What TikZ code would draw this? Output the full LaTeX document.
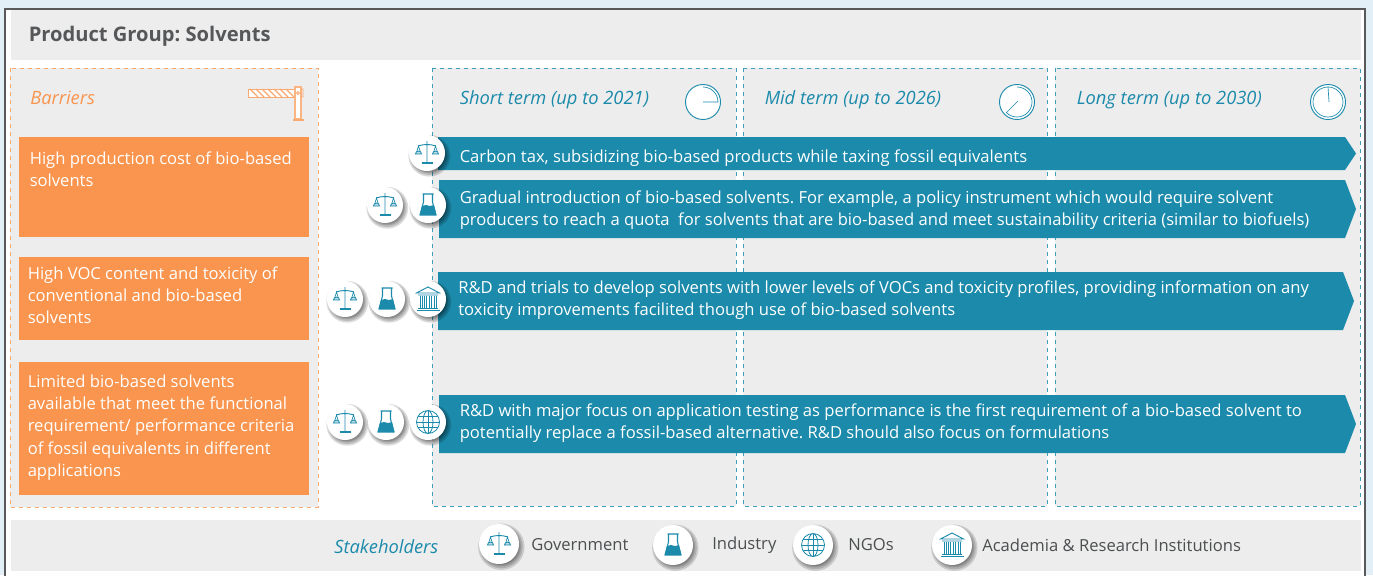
\documentclass[tikz,border=0pt]{standalone}
\usepackage{fontspec}
\setmainfont{Open Sans}
\usetikzlibrary{shadows}
\frenchspacing
\definecolor{pagebg}{HTML}{E3EFF7}
\definecolor{panelgrey}{HTML}{EDEDED}
\definecolor{barrier}{HTML}{F9954E}
\definecolor{teal}{HTML}{1B8AAB}
\definecolor{dashteal}{HTML}{3F9FBB}
\definecolor{headgrey}{HTML}{555759}
\tikzset{
  panel/.style={fill=panelgrey, draw=none},
  barrierbox/.style={anchor=north west, fill=barrier, minimum width=217.5pt, inner sep=0pt},
  bodytext/.style={anchor=west, align=left, inner sep=0pt, text=white, font=\fontsize{12.45}{16.7}\selectfont},
  termtext/.style={anchor=west, inner sep=0pt, text=teal, font=\fontsize{13.75}{16}\selectfont\itshape},
  legendtext/.style={anchor=west, inner sep=0pt, text=headgrey!90!black, font=\fontsize{12.45}{15}\selectfont},
  softshadow/.style={general shadow={shadow xshift=1.5pt, shadow yshift=-1.8pt, shadow scale=#1, fill=black, opacity=.14}},
  badge/.style={circle, fill=white, minimum size=27pt, inner sep=0pt,
    softshadow=1.16, softshadow=1.08, softshadow=1.0, softshadow=.94},
  bigbadge/.style={badge, minimum size=30pt},
  pics/scales/.style={code={
    \draw[teal, line width=.7pt] (0,-12) -- (0,10) (-9,-7) .. controls (-3,-9) and (3,-9) .. (9,-7);
    \draw[teal, line width=1.3pt] (-5.5,10) -- (5.5,10);
    \draw[teal, line width=.5pt] (-11,1) -- (-8.5,-7) -- (-6,1) (6,1) -- (8.5,-7) -- (11,1);
    \draw[teal, line width=.6pt, fill=teal!30] (-11.5,1) arc[start angle=180, end angle=360, radius=3] -- cycle;
    \draw[teal, line width=.6pt, fill=teal!30] (5.5,1) arc[start angle=180, end angle=360, radius=3] -- cycle;
  }},
  pics/flask/.style={code={
    \draw[teal, line width=.8pt] (-5.5,-11) -- (5.5,-11) (-4.5,-11) -- (-4.5,-3) -- (-8,10) (4.5,-11) -- (4.5,-3) -- (8,10);
    \fill[teal] (-6,1) -- (-2,0) -- (2,1) -- (6,0) -- (8.5,10.5) -- (-8.5,10.5) -- cycle;
  }},
  pics/temple/.style={code={
    \draw[teal, line width=.7pt] (-11.5,-6) -- (0,-12) -- (11.5,-6) -- cycle (-10,-4) -- (10,-4);
    \draw[teal, line width=.7pt] (-11.5,11) -- (11.5,11) (-10,9) -- (10,9);
    \foreach \colx in {-7,-2.3,2.3,7} {
      \draw[teal, line width=.6pt] (\colx-1.1,-3.5) -- (\colx-1.1,8.5) (\colx+1.1,-3.5) -- (\colx+1.1,8.5);
    }
  }},
  pics/globe/.style={code={
    \draw[teal, line width=.6pt] (0,0) circle[radius=11.5] (0,0) ellipse[x radius=5, y radius=11.5];
    \draw[teal, line width=.6pt] (0,-11.5) -- (0,11.5) (-11.5,0) -- (11.5,0) (-10,-5.5) -- (10,-5.5) (-10,5.5) -- (10,5.5);
  }},
}
\begin{document}
\begin{tikzpicture}[x=0.75pt, y=-0.75pt]
\useasboundingbox (0,0) rectangle (1373,575);
\fill[pagebg] (0,0) rectangle (1373,575);
\draw[fill=white, draw=black!65, line width=.8pt] (5,577) -- (5,9) -- (1365,9) -- (1365,577);

% header and footer strips
\fill[panel] (11,10) rectangle (1361,60);
\fill[panel] (11,520) rectangle (1361,571);
\node (title) [anchor=west, inner sep=0pt, text=headgrey, font=\fontsize{15.1}{18}\selectfont\bfseries] at (28.5,36) {Product Group: Solvents};

% barriers column
\draw[panel, draw=barrier!80, dashed, line width=.6pt] (10,68) rectangle (318,507);
\node (barriers) [termtext, text=barrier] at (30,98) {Barriers};
\draw[barrier!80, fill=white, line width=.6pt] (248,89) rectangle (297,97);
\foreach \hatchx in {250,256,...,286} {
  \draw[barrier!80, line width=.9pt] (\hatchx,89) -- (\hatchx+8,97);
}
\draw[barrier!70, fill=white, line width=.8pt] (295,87) rectangle (301,119);
\draw[barrier!80, line width=.6pt] (301,89) rectangle (303,97) (298,93) circle[radius=1.5];
\draw[barrier!80, line width=.8pt] (293,120) -- (304,120);
\node (costbox) [barrierbox, minimum height=75pt] at (19,137) {};
\node (vocbox) [barrierbox, minimum height=62.25pt] at (19,257) {};
\node (limitbox) [barrierbox, minimum height=99.75pt] at (19,362) {};
\node (costtext) [bodytext] at (29.5,169.5) {High production cost of bio-based\\solvents};
\node (voctext) [bodytext] at (27.5,295) {High VOC content and toxicity of\\conventional and bio-based\\solvents};
\node (limittext) [bodytext] at (27.5,427.5) {Limited bio-based solvents\\available that meet the functional\\requirement/ performance criteria\\of fossil equivalents in different\\applications};

% term columns
\foreach \colleft/\colright in {432/736, 743/1047, 1055/1360} {
  \draw[panel, draw=dashteal, dashed, line width=.6pt] (\colleft,68) rectangle (\colright,506);
}
\node (shortterm) [termtext] at (459.5,100) {Short term (up to 2021)};
\node (midterm) [termtext] at (764.5,100) {Mid term (up to 2026)};
\node (longterm) [termtext] at (1076.5,100) {Long term (up to 2030)};

% clocks
\draw[teal, line width=.7pt, fill=white] (703,102) circle[radius=17.5];
\draw[teal, line width=.5pt] (703,87) arc[start angle=-90, end angle=0, radius=15] -- (703,102);
\draw[teal, line width=.7pt, fill=white] (1017,102) circle[radius=17.5];
\draw[teal, line width=.5pt] (1017,87) arc[start angle=-90, end angle=135, radius=15] -- (1018,101);
\draw[teal, line width=.7pt, fill=white] (1328,102) circle[radius=17.5];
\draw[teal, line width=.5pt] (1328,102) circle[radius=15] (1328,87) -- (1329,102);

% measures
\foreach \bartop/\barbot/\barleft/\barright in {137/170/438/1356, 180/238/439/1356, 272/330/438/1354, 395/453/439/1356} {
  \fill[teal] (\barleft,\bartop) -- (\barright-11,\bartop) -- (\barright,{(\bartop+\barbot)/2}) -- (\barright-11,\barbot) -- (\barleft,\barbot) -- cycle;
}
\node (carbon) [bodytext] at (459.5,158) {Carbon tax, subsidizing bio-based products while taxing fossil equivalents};
\node (gradual) [bodytext] at (459.5,210) {Gradual introduction of bio-based solvents. For example, a policy instrument which would require solvent\\producers to reach a quota\ \ for solvents that are bio-based and meet sustainability criteria (similar to biofuels)};
\node (trials) [bodytext] at (458,300) {R\&D and trials to develop solvents with lower levels of VOCs and toxicity profiles, providing information on any\\toxicity improvements facilited though use of bio-based solvents};
\node (testing) [bodytext] at (459.5,423) {R\&D with major focus on application testing as performance is the first requirement of a bio-based solvent to\\potentially replace a fossil-based alternative. R\&D should also focus on formulations};

% stakeholder badges on the measures
\node (govA) [badge] at (427,153) {};
\pic at (govA) {scales};
\node (govB) [badge] at (385,205) {};
\pic at (govB) {scales};
\node (indB) [badge] at (428,205) {};
\pic at (indB) {flask};
\node (govC) [badge] at (345,299) {};
\pic at (govC) {scales};
\node (indC) [badge] at (387,299) {};
\pic at (indC) {flask};
\node (acaC) [badge] at (428,299) {};
\pic at (acaC) {temple};
\node (govD) [badge] at (345,422) {};
\pic at (govD) {scales};
\node (indD) [badge] at (386,422) {};
\pic at (indD) {flask};
\node (ngoD) [badge] at (428,422) {};
\pic at (ngoD) {globe};

% legend
\node (stakeholders) [termtext] at (334,547) {Stakeholders};
\node (govL) [bigbadge] at (499,544) {};
\pic at (govL) {scales};
\node (govtext) [legendtext] at (531,545) {Government};
\node (indL) [bigbadge] at (673,545) {};
\pic at (indL) {flask};
\node (indtext) [legendtext] at (712,545) {Industry};
\node (ngoL) [bigbadge] at (813,545) {};
\pic at (ngoL) {globe};
\node (ngotext) [legendtext] at (848,545) {NGOs};
\node (acaL) [bigbadge] at (952,545) {};
\pic at (acaL) {temple};
\node (acatext) [legendtext] at (982,545) {Academia \& Research Institutions};
\end{tikzpicture}
\end{document}
